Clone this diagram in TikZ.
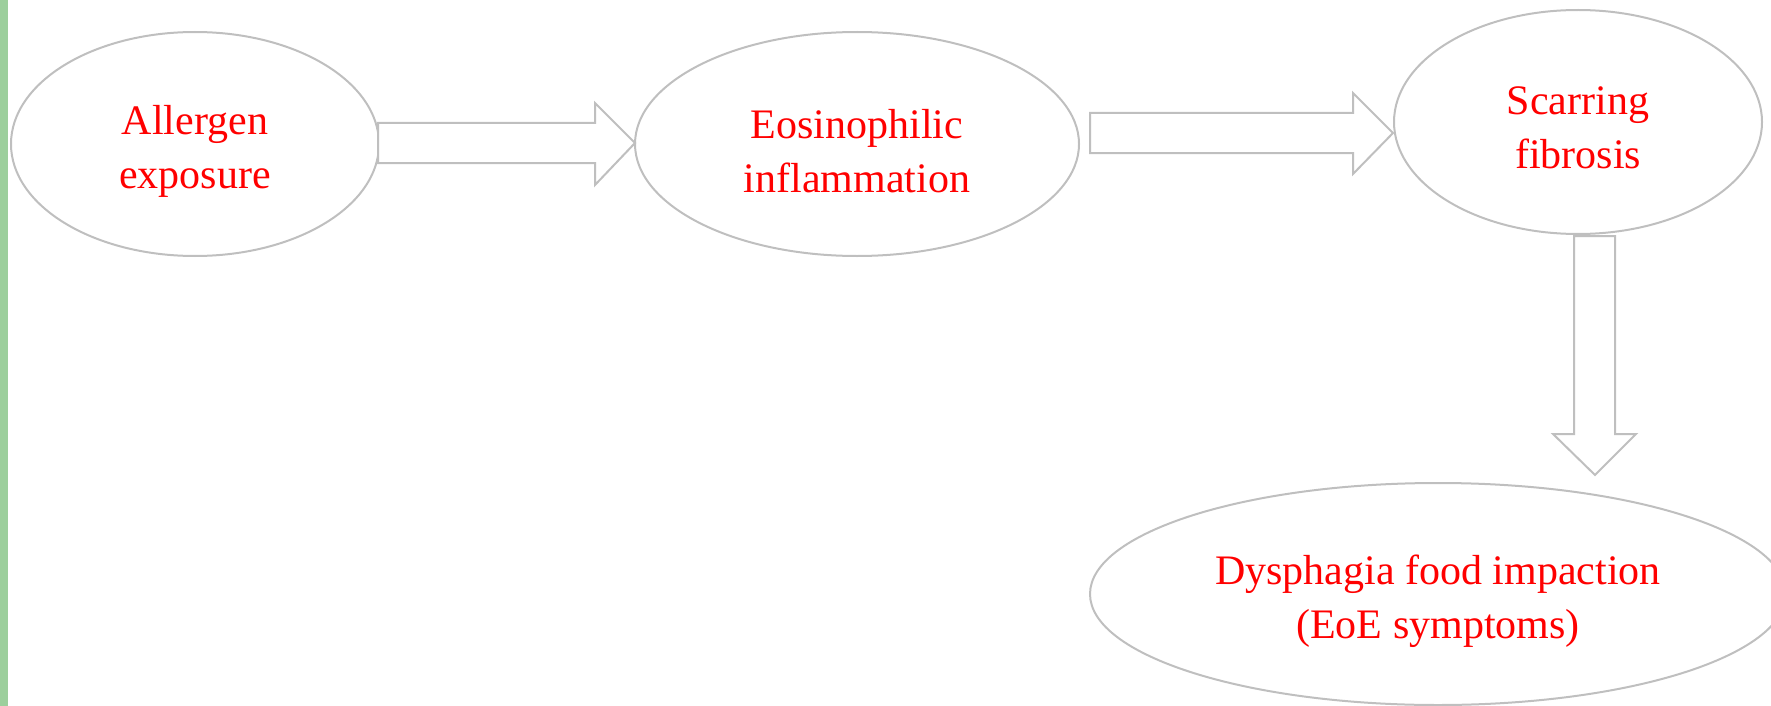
\documentclass[tikz,border=0pt]{standalone}
\usepackage{fontspec}
\setmainfont{Liberation Serif}
\usetikzlibrary{shapes.geometric}
\definecolor{edgegray}{HTML}{BFBFBF}
\definecolor{barGreen}{HTML}{9CCF9C}
\begin{document}
\begin{tikzpicture}[x=0.5pt,y=-0.5pt,
  bubble/.style={ellipse,draw=edgegray,line width=1pt,inner sep=0pt},
  bubbletext/.style={text=red,align=center,inner sep=0pt,font=\fontsize{21}{27}\selectfont},
  blockarrow/.style={draw=edgegray,line width=1pt,fill=white,line join=miter}]
\useasboundingbox (0,0) rectangle (1771,706);
\fill[barGreen] (0,0) rectangle (8,706);
\node[bubble,minimum width=184pt,minimum height=112pt] (a) at (195,144) {};
\node[bubble,minimum width=222pt,minimum height=112pt] (b) at (857,144) {};
\node[bubble,minimum width=184pt,minimum height=112pt] (c) at (1578,122) {};
\node[bubble,minimum width=348pt,minimum height=111pt] (d) at (1438,594) {};
\node[bubbletext] (ta) at ([yshift=-3.5pt]a.center) {Allergen\\exposure};
\node[bubbletext] (tb) at ([yshift=-3.5pt]b.center) {Eosinophilic\\inflammation};
\node[bubbletext] (tc) at ([yshift=-3pt]c.center) {Scarring\\fibrosis};
\node[bubbletext] (td) at ([yshift=-3.5pt]d.center) {Dysphagia food impaction\\(EoE symptoms)};
% arrow a -> b
\draw[blockarrow] (378,123) -- (595,123) -- (595,103) -- (635,143) -- (595,185) -- (595,163) -- (378,163) -- cycle;
% arrow b -> c
\draw[blockarrow] (1090,113) -- (1353,113) -- (1353,93) -- (1393,133) -- (1353,174) -- (1353,153) -- (1090,153) -- cycle;
% arrow c -> d
\draw[blockarrow] (1574,236) -- (1615,236) -- (1615,434) -- (1636,434) -- (1595,475) -- (1553,434) -- (1574,434) -- cycle;
\end{tikzpicture}
\end{document}
